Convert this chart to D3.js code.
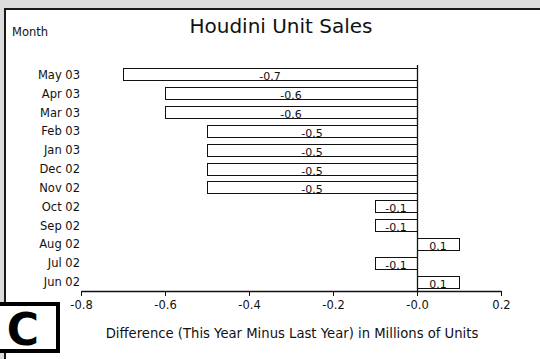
<!DOCTYPE html>
<html>
<head>
<meta charset="utf-8">
<script src="https://cdn.jsdelivr.net/npm/d3@7"></script>
<style>
  html, body { margin: 0; padding: 0; background: #dcdcdc; }
  svg { display: block; font-family: "DejaVu Sans", Verdana, sans-serif; }
</style>
</head>
<body>
<svg id="chart" width="540" height="359"></svg>
<script>
// Monthly differences, newest first (top of chart)
const months = ["May 03", "Apr 03", "Mar 03", "Feb 03", "Jan 03", "Dec 02",
                "Nov 02", "Oct 02", "Sep 02", "Aug 02", "Jul 02", "Jun 02"];
const differences = [-0.7, -0.6, -0.6, -0.5, -0.5, -0.5, -0.5, -0.1, -0.1, 0.1, -0.1, 0.1];
const tickValues = [-0.8, -0.6, -0.4, -0.2, 0.0, 0.2];
const tickLabels = ["-0.8", "-0.6", "-0.4", "-0.2", "-0.0", "0.2"];

const svg = d3.select("#chart");
const fmt = d3.formatLocale({ decimal: ".", thousands: ",", grouping: [3], currency: ["", ""], minus: "-" }).format(".1f");

// Background panel
svg.append("rect").attr("x", 0).attr("y", 0).attr("width", 540).attr("height", 359).attr("fill", "#dcdcdc");
svg.append("rect").attr("x", 5).attr("y", 9).attr("width", 600).attr("height", 400)
  .attr("fill", "#fff").attr("stroke", "#1a1a1a").attr("stroke-width", 2);

const x = d3.scaleLinear().domain([-0.8, 0.2]).range([81, 501]);
const y = d3.scaleBand().domain(months).range([65, 291]).paddingInner(0.36).paddingOuter(0.18);

// Title
svg.append("text").attr("x", 281).attr("y", 33).attr("text-anchor", "middle")
  .attr("font-size", 20).attr("fill", "#111").text("Houdini Unit Sales");

svg.append("text").attr("x", 12).attr("y", 36).attr("font-size", 11.5).attr("fill", "#111").text("Month");

// Category labels
svg.append("g").selectAll("text").data(months).join("text")
  .attr("x", 80).attr("y", d => y(d) + y.bandwidth() / 2 + 4.5)
  .attr("text-anchor", "end").attr("font-size", 11.5).attr("fill", "#111")
  .text(d => d);

// Bars
const rows = months.map((m, i) => ({ month: m, value: differences[i] }));
svg.append("g").selectAll("rect").data(rows).join("rect")
  .attr("x", d => Math.round(Math.min(x(0), x(d.value))) + 0.5)
  .attr("y", d => Math.round(y(d.month)) + 0.5)
  .attr("width", d => Math.round(Math.abs(x(d.value) - x(0))))
  .attr("height", Math.round(y.bandwidth()))
  .attr("fill", "#fff").attr("stroke", "#111").attr("stroke-width", 1);

// Value labels, sitting on the lower edge of each bar
svg.append("g").selectAll("text").data(rows).join("text")
  .attr("x", d => (x(0) + x(d.value)) / 2)
  .attr("y", d => Math.round(y(d.month)) + Math.round(y.bandwidth()) - 0.5)
  .attr("text-anchor", "middle").attr("font-size", 11).attr("fill", "#111")
  .text(d => fmt(d.value));

// Zero line
svg.append("line").attr("x1", Math.round(x(0)) + 0.5).attr("x2", Math.round(x(0)) + 0.5)
  .attr("y1", 65).attr("y2", 291).attr("stroke", "#111").attr("stroke-width", 1.3);

// X axis
const xAxis = d3.axisBottom(x).tickValues(tickValues)
  .tickFormat((d, i) => tickLabels[i]).tickSize(5).tickSizeOuter(0);
const gx = svg.append("g").attr("transform", "translate(0,291)").call(xAxis);
gx.select(".domain").attr("stroke", "#111").attr("stroke-width", 1.3);
gx.selectAll(".tick line").attr("stroke", "#111");
gx.selectAll(".tick text").attr("font-size", 11.5).attr("fill", "#111")
  .attr("font-family", "DejaVu Sans, Verdana, sans-serif").attr("dy", "0.9em");

svg.append("text").attr("x", 292).attr("y", 338).attr("text-anchor", "middle")
  .attr("font-size", 13.2).attr("fill", "#111")
  .text("Difference (This Year Minus Last Year) in Millions of Units");

// Panel letter
svg.append("rect").attr("x", -2).attr("y", 304).attr("width", 60).attr("height", 47)
  .attr("fill", "#fff").attr("stroke", "#000").attr("stroke-width", 4);
svg.append("text").attr("x", 23).attr("y", 345).attr("text-anchor", "middle")
  .attr("font-size", 44).attr("font-weight", "bold").attr("fill", "#000").text("C");
</script>
</body>
</html>
